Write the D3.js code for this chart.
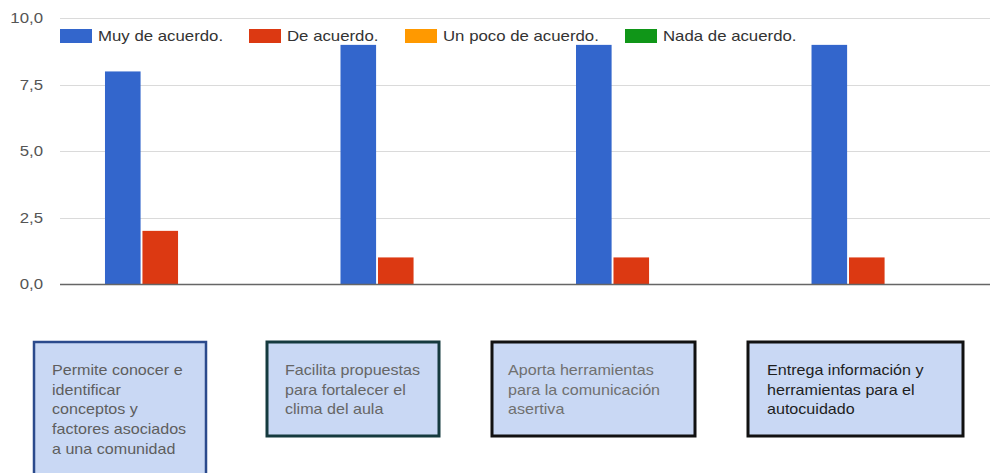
<!DOCTYPE html>
<html><head><meta charset="utf-8">
<script src="https://cdn.jsdelivr.net/npm/d3@7"></script>
<style>
html,body{margin:0;padding:0;background:#fff;}
svg{display:block;font-family:"Liberation Sans",Arial,sans-serif;}
</style></head>
<body>
<svg id="c" width="990" height="473"></svg>
<script>
// ---- data ----
const categoryLines = [
  ["Permite conocer e","identificar","conceptos y","factores asociados","a una comunidad"],
  ["Facilita propuestas","para fortalecer el","clima del aula"],
  ["Aporta herramientas","para la comunicación","asertiva"],
  ["Entrega información y","herramientas para el","autocuidado"]
];
const categories = categoryLines.map(l => l.join(" "));
const seriesNames = ["Muy de acuerdo.","De acuerdo.","Un poco de acuerdo.","Nada de acuerdo."];
const seriesColors = ["#3366cc","#dc3912","#ff9900","#109618"];
const muyDeAcuerdo = [8, 9, 9, 9];
const deAcuerdo = [2, 1, 1, 1];
const unPocoDeAcuerdo = [0, 0, 0, 0];
const nadaDeAcuerdo = [0, 0, 0, 0];
const seriesValues = [muyDeAcuerdo, deAcuerdo, unPocoDeAcuerdo, nadaDeAcuerdo];
const yTicks = [0, 2.5, 5, 7.5, 10];
const yTickLabels = ["0,0","2,5","5,0","7,5","10,0"];

// ---- layout ----
const svg = d3.select("#c");
const SX = 1.2;   // horizontal stretch of text in the reference
const plotLeft = 60, plotRight = 990;
const y = d3.scaleLinear().domain([0,10]).range([284, 18.3]);
const x0 = d3.scaleBand().domain(categories).range([60, 1004.5]).paddingInner(0.3716).paddingOuter(0.191);
const x1 = d3.scaleBand().domain(seriesNames).range([0, x0.bandwidth()]).paddingInner(0.05);

function stretchedText(sel, x, yy, txt, sx, anchor) {
  const g = sel.append("g").attr("transform", `translate(${x},${yy}) scale(${sx},1)`);
  return g.append("text").attr("x",0).attr("y",0).attr("text-anchor", anchor||"start").text(txt);
}

// gridlines
const grid = svg.append("g");
yTicks.filter(t => t !== 0).forEach(t => {
  grid.append("line").attr("x1", plotLeft).attr("x2", plotRight)
    .attr("y1", Math.round(y(t))+0.5).attr("y2", Math.round(y(t))+0.5)
    .attr("stroke", "#dadada").attr("stroke-width", 1);
});

// y labels
const yl = svg.append("g").attr("font-size", 14).attr("fill", "#555");
yTicks.forEach((t,i) => {
  stretchedText(yl, 43, y(t)+5, yTickLabels[i], SX, "end");
});

// bars
const rows = [];
categories.forEach((c,ci) => seriesNames.forEach((s,si) => rows.push({c, s, v: seriesValues[si][ci], color: seriesColors[si]})));
svg.append("g").selectAll("rect").data(rows.filter(d => d.v > 0)).join("rect")
  .attr("x", d => x0(d.c) + x1(d.s))
  .attr("width", x1.bandwidth())
  .attr("y", d => y(d.v))
  .attr("height", d => y(0) - y(d.v))
  .attr("fill", d => d.color);

// baseline
svg.append("line").attr("x1", plotLeft).attr("x2", plotRight)
  .attr("y1", y(0)+0.5).attr("y2", y(0)+0.5).attr("stroke", "#666").attr("stroke-width", 1.6);

// legend
const legendX = [60, 249, 405, 625];
const lg = svg.append("g").attr("font-size", 14).attr("fill", "#333");
seriesNames.forEach((s,i) => {
  lg.append("rect").attr("x", legendX[i]).attr("y", 29).attr("width", 32).attr("height", 14).attr("fill", seriesColors[i]);
  stretchedText(lg, legendX[i] + 38, 41, s, SX);
});

// category boxes
const boxLayout = [
  {x: 34, y: 342, w: 172, h: 140, stroke: "#2b4a8c", sw: 2.5, text: "#5e5e5e", tx: 52},
  {x: 267, y: 342, w: 172, h: 94, stroke: "#153a3e", sw: 3, text: "#666", tx: 285},
  {x: 492, y: 342, w: 203, h: 94, stroke: "#111", sw: 3, text: "#707070", tx: 508},
  {x: 748, y: 342, w: 215, h: 94, stroke: "#111", sw: 3, text: "#1e1e1e", tx: 767}
];
const bx = svg.append("g").attr("font-size", 14);
categories.forEach((c,i) => {
  const b = boxLayout[i];
  bx.append("rect").attr("x", b.x).attr("y", b.y).attr("width", b.w).attr("height", b.h)
    .attr("fill", "#c9d8f4").attr("stroke", b.stroke).attr("stroke-width", b.sw);
  const tg = bx.append("g").attr("fill", b.text);
  categoryLines[i].forEach((ln, li) => {
    stretchedText(tg, b.tx, 375 + li*19.7, ln, 1.15);
  });
});
</script>
</body></html>
